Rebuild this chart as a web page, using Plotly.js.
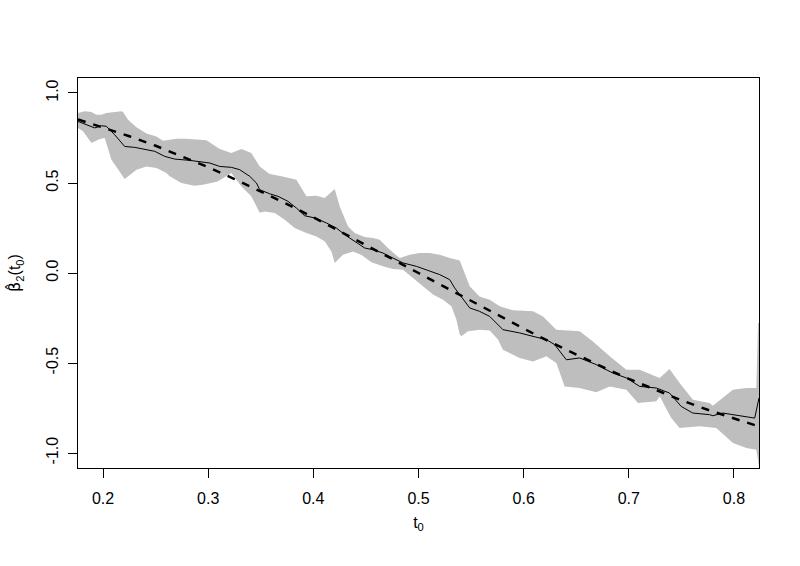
<!DOCTYPE html>
<html>
<head>
<meta charset="utf-8">
<script src="https://cdn.plot.ly/plotly-3.0.1.min.js"></script>
<style>html,body{margin:0;padding:0;background:#fff;}#chart{width:800px;height:566px;}</style>
</head>
<body>
<div id="chart"></div>
<script>
// Confidence band: upper and lower boundaries
const upperT = [0.1762,0.1826,0.189,0.1937,0.1985,0.2032,0.2175,0.219,0.2238,0.2318,0.2413,0.2508,0.257,0.2634,0.2698,0.279,0.2983,0.311,0.322,0.3316,0.341,0.349,0.3585,0.3696,0.3839,0.3934,0.4029,0.4108,0.4203,0.4251,0.433,0.4393,0.4488,0.4567,0.4631,0.4726,0.4821,0.4916,0.5011,0.5107,0.5202,0.5297,0.5392,0.5487,0.558,0.5677,0.5772,0.5898,0.6089,0.6184,0.6311,0.6533,0.6659,0.6818,0.6977,0.7103,0.7293,0.7387,0.7483,0.761,0.7768,0.7799,0.799,0.8118,0.8213,0.8229,0.8238];
const upperV = [0.889,0.898,0.894,0.879,0.879,0.889,0.898,0.894,0.852,0.810,0.775,0.759,0.735,0.741,0.746,0.746,0.737,0.689,0.667,0.689,0.667,0.592,0.550,0.537,0.518,0.426,0.429,0.417,0.467,0.370,0.259,0.222,0.200,0.194,0.185,0.129,0.083,0.102,0.111,0.111,0.102,0.083,0.070,-0.074,-0.130,-0.148,-0.185,-0.207,-0.213,-0.241,-0.315,-0.324,-0.380,-0.463,-0.537,-0.537,-0.583,-0.533,-0.611,-0.704,-0.722,-0.737,-0.648,-0.639,-0.639,-0.278,-0.278];
const lowerT = [0.1762,0.181,0.189,0.1969,0.2016,0.208,0.2206,0.2318,0.2413,0.2508,0.2603,0.2634,0.2745,0.287,0.295,0.309,0.322,0.3316,0.341,0.349,0.3537,0.3633,0.3728,0.3823,0.3934,0.4029,0.4108,0.4172,0.4203,0.4282,0.4377,0.4459,0.4552,0.4662,0.4757,0.4852,0.4948,0.5043,0.5138,0.5233,0.5313,0.536,0.5392,0.5408,0.547,0.5582,0.5677,0.5756,0.5803,0.5962,0.6089,0.6216,0.6311,0.639,0.6533,0.6691,0.6818,0.6977,0.7087,0.7262,0.7293,0.7404,0.7483,0.7674,0.7832,0.799,0.8118,0.8213,0.8238];
const lowerV = [0.806,0.787,0.722,0.744,0.750,0.629,0.522,0.574,0.592,0.583,0.556,0.537,0.500,0.485,0.490,0.509,0.556,0.481,0.426,0.335,0.342,0.333,0.296,0.250,0.222,0.203,0.176,0.120,0.056,0.102,0.120,0.100,0.060,0.037,0.022,0.018,-0.028,-0.074,-0.120,-0.148,-0.185,-0.259,-0.340,-0.352,-0.324,-0.315,-0.320,-0.370,-0.426,-0.472,-0.491,-0.463,-0.500,-0.630,-0.639,-0.663,-0.630,-0.648,-0.722,-0.713,-0.685,-0.806,-0.861,-0.852,-0.861,-0.944,-0.972,-0.982,-1.074];
// Estimated curve (solid)
const estT = [0.1762,0.1826,0.1921,0.1985,0.2032,0.2111,0.219,0.2206,0.2301,0.2396,0.2492,0.2587,0.268,0.282,0.3015,0.311,0.322,0.330,0.3395,0.3459,0.349,0.3585,0.3664,0.3759,0.3839,0.3918,0.4013,0.4124,0.4219,0.4298,0.4393,0.4488,0.4567,0.4662,0.4757,0.4852,0.498,0.5075,0.5202,0.5297,0.5344,0.5392,0.5487,0.558,0.5677,0.5803,0.5962,0.6089,0.6216,0.6295,0.6406,0.6533,0.6691,0.6849,0.6977,0.7103,0.7262,0.7387,0.7498,0.7608,0.7768,0.7799,0.7895,0.799,0.8085,0.8197,0.8238];
const estV = [0.842,0.829,0.806,0.818,0.815,0.768,0.713,0.703,0.698,0.689,0.676,0.648,0.633,0.626,0.611,0.592,0.587,0.574,0.537,0.500,0.463,0.440,0.426,0.398,0.361,0.318,0.306,0.278,0.250,0.213,0.176,0.139,0.129,0.111,0.083,0.056,0.037,0.018,-0.009,-0.037,-0.083,-0.120,-0.194,-0.213,-0.241,-0.315,-0.333,-0.352,-0.370,-0.398,-0.482,-0.472,-0.509,-0.556,-0.583,-0.630,-0.639,-0.667,-0.741,-0.778,-0.787,-0.793,-0.778,-0.787,-0.796,-0.806,-0.694];
// True curve (dashed)
const trueT = [0.1762,0.2,0.225,0.25,0.275,0.3,0.325,0.35,0.375,0.4,0.425,0.45,0.475,0.5,0.525,0.55,0.575,0.6,0.625,0.65,0.675,0.7,0.725,0.75,0.775,0.8,0.8238];
const trueV = [0.853,0.809,0.760,0.707,0.649,0.588,0.522,0.454,0.383,0.309,0.233,0.156,0.078,0.0,-0.078,-0.156,-0.233,-0.309,-0.383,-0.454,-0.522,-0.588,-0.649,-0.707,-0.760,-0.809,-0.853];
// Ticks
const xTicks = [0.2,0.3,0.4,0.5,0.6,0.7,0.8];
const xTickLabels = ["0.2","0.3","0.4","0.5","0.6","0.7","0.8"];
const yTicks = [-1.0,-0.5,0.0,0.5,1.0];
const yTickLabels = ["-1.0","-0.5","0.0","0.5","1.0"];

const bandX = upperT.concat(lowerT.slice().reverse());
const bandY = upperV.concat(lowerV.slice().reverse());

const traces = [
  {x: bandX, y: bandY, type:'scatter', mode:'lines', fill:'toself', fillcolor:'#bebebe', line:{width:0, color:'#bebebe'}, hoverinfo:'skip'},
  {x: estT, y: estV, type:'scatter', mode:'lines', line:{color:'#000', width:1}},
  {x: trueT, y: trueV, type:'scatter', mode:'lines', line:{color:'#000', width:2.5, dash:'8px,8px'}}
];
const font = {family:'Liberation Sans, Arial, sans-serif', size:16, color:'#000'};
const layout = {
  width:800, height:566,
  margin:{l:78, r:41, t:78, b:98},
  paper_bgcolor:'#fff', plot_bgcolor:'#fff',
  showlegend:false,
  font: font,
  xaxis:{range:[0.1762,0.8238], tickvals:xTicks, ticktext:xTickLabels, ticks:'outside', ticklen:9, tickwidth:1, tickcolor:'#000',
         showline:true, mirror:true, linecolor:'#000', linewidth:1, showgrid:false, zeroline:false, tickfont:font,
         ticklabelstandoff:7,
         title:{text:'t<sub>0</sub>', font:font, standoff:10}},
  yaxis:{range:[-1.0833,1.0833], tickvals:yTicks, ticktext:yTickLabels, ticks:'outside', ticklen:9, tickwidth:1, tickcolor:'#000',
         showline:true, mirror:true, linecolor:'#000', linewidth:1, showgrid:false, zeroline:false, tickfont:font, tickangle:-90,
         ticklabelstandoff:4,
         title:{text:'<span style="font-family:DejaVu Sans">\u03B2\u0302</span><sub>2</sub>(t<sub>0</sub>)', font:font, standoff:18}}
};
Plotly.newPlot('chart', traces, layout, {staticPlot:true, displayModeBar:false});
</script>
</body>
</html>
